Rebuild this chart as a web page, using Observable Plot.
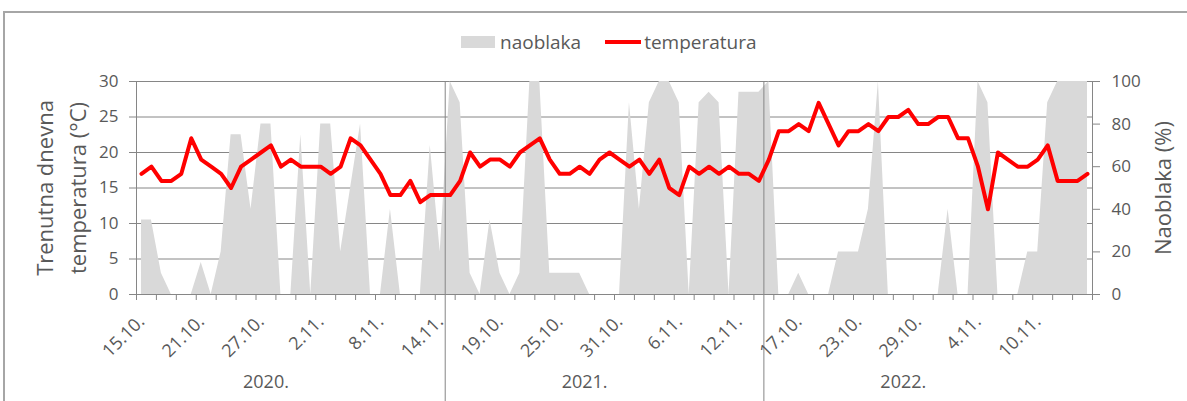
<!DOCTYPE html>
<html>
<head>
<meta charset="utf-8">
<script src="https://cdn.jsdelivr.net/npm/d3@7"></script>
<script src="https://cdn.jsdelivr.net/npm/@observablehq/plot@0.6"></script>
<style>
  html, body { margin: 0; padding: 0; background: #fff; }
  #wrap { position: relative; width: 1187px; height: 401px; overflow: hidden; font-family: "Open Sans", sans-serif; }
  #frame { position: absolute; left: 3px; top: 11px; width: 1300px; height: 500px; border-left: 2px solid #a6a6a6; border-top: 2px solid #a6a6a6; box-sizing: border-box; }
  #chart { position: absolute; left: 0; top: 0; }
  #legend { position: absolute; left: 461px; top: 30px; height: 24px; display: flex; align-items: center; color: #595959; font-size: 19px; }
  .sw-area { width: 34px; height: 12px; background: #d9d9d9; margin-right: 5px; }
  .sw-line { width: 36px; height: 4px; background: #ff0000; margin-left: 24px; margin-right: 3px; }
</style>
</head>
<body>
<div id="wrap">
  <div id="frame"></div>
  <div id="chart"></div>
  <div id="legend"><div class="sw-area"></div><span>naoblaka</span><div class="sw-line"></div><span>temperatura</span></div>
</div>
<script>
// Category labels (each year: 15.10. – 15.11.)
const days = ["15.10.","16.10.","17.10.","18.10.","19.10.","20.10.","21.10.","22.10.","23.10.","24.10.",
  "25.10.","26.10.","27.10.","28.10.","29.10.","30.10.","31.10.","1.11.","2.11.","3.11.","4.11.",
  "5.11.","6.11.","7.11.","8.11.","9.11.","10.11.","11.11.","12.11.","13.11.","14.11.","15.11."];
const years = ["2020.", "2021.", "2022."];

// Temperature (°C)
const temp2020 = [17,18,16,16,17,22,19,18,17,15,18,19,20,21,18,19,18,18,18,17,18,22,21,19,17,14,14,16,13,14,14,14];
const temp2021 = [16,20,18,19,19,18,20,21,22,19,17,17,18,17,19,20,19,18,19,17,19,15,14,18,17,18,17,18,17,17,16,19];
const temp2022 = [23,23,24,23,27,24,21,23,23,24,23,25,25,26,24,24,25,25,22,22,18,12,20,19,18,18,19,21,16,16,16,17];

// Cloudiness (%)
const cloud2020 = [35,35,10,0,0,0,15,0,20,75,75,40,80,80,0,0,75,0,80,80,20,50,80,0,0,40,0,0,0,70,20,100];
const cloud2021 = [90,10,0,35,10,0,10,100,100,10,10,10,10,0,0,0,0,90,40,90,100,100,90,0,90,95,90,0,95,95,95,100];
const cloud2022 = [0,0,10,0,0,0,20,20,20,40,100,0,0,0,0,0,0,40,0,0,100,90,0,0,0,20,20,90,100,100,100,100];

const tempTicks = [0, 5, 10, 15, 20, 25, 30];
const cloudTicks = [0, 20, 40, 60, 80, 100];

const temps = [temp2020, temp2021, temp2022];
const clouds = [cloud2020, cloud2021, cloud2022];
const n = days.length;
const data = [];
years.forEach((yr, yi) => {
  days.forEach((d, di) => {
    data.push({i: yi * n + di, year: yr, day: d, temp: temps[yi][di], cloud: clouds[yi][di]});
  });
});
const total = data.length;
const k = 30 / 100; // cloud % -> temperature axis units

const labelIdx = data.filter(d => d.i % 6 === 0).map(d => d.i + 0.5);
const tickIdx = d3.range(0, total + 1, 2);
// separators between "14.11." and "15.11." of each year (except last)
const separators = years.slice(0, -1).map((y, yi) => yi * n + days.indexOf("15.11."));

const grey = "#868686";
const textCol = "#595959";

const chart = Plot.plot({
  width: 1187,
  height: 401,
  marginLeft: 136,
  marginRight: 95,
  marginTop: 81,
  marginBottom: 107,
  x: {type: "linear", domain: [0, total]},
  y: {domain: [0, 30]},
  style: {fontFamily: "'Open Sans', sans-serif", color: textCol, background: "transparent", overflow: "visible"},
  marks: [
    Plot.ruleY(tempTicks.filter(t => t > 0), {stroke: grey, strokeWidth: 1}),
    Plot.areaY(data, {x: d => d.i + 0.5, y: d => d.cloud * k, fill: "#d9d9d9", curve: "linear"}),
    Plot.ruleX(separators, {stroke: grey, strokeWidth: 1, insetBottom: -115}),
    Plot.ruleX([0], {stroke: grey}),
    Plot.ruleX([total], {stroke: grey}),
    Plot.ruleY([0], {stroke: grey}),
    Plot.axisY(tempTicks, {anchor: "left", tickSize: 7, tickPadding: 11, fontSize: 17, stroke: grey, fill: textCol, label: null}),
    Plot.axisY(cloudTicks.map(c => c * k), {anchor: "right", tickSize: 7, tickPadding: 12, fontSize: 17, stroke: grey, fill: textCol, label: null, tickFormat: v => Math.round(v / k)}),
    Plot.axisX(tickIdx, {tickSize: 6, stroke: grey, tickFormat: () => "", label: null}),
    Plot.axisX(labelIdx, {tickSize: 0, tickPadding: 24, tickRotate: -45, fontSize: 18, fill: textCol, label: null,
      tickFormat: v => days[Math.round(v - 0.5) % n]}),
    Plot.text(years, {x: (d, i) => i * n + 13, frameAnchor: "bottom", dy: 93, fontSize: 18, fill: textCol}),
    Plot.text(["Trenutna dnevna"], {frameAnchor: "left", dx: -91, rotate: -90, textAnchor: "middle", fontSize: 22, fill: textCol}),
    Plot.text(["temperatura (°C)"], {frameAnchor: "left", dx: -58, rotate: -90, textAnchor: "middle", fontSize: 22, fill: textCol}),
    Plot.text(["Naoblaka (%)"], {frameAnchor: "right", dx: 71, rotate: -90, textAnchor: "middle", fontSize: 22, fill: textCol}),
    Plot.line(data, {x: d => d.i + 0.5, y: "temp", stroke: "#ff0000", strokeWidth: 4, strokeLinejoin: "round", strokeLinecap: "round"})
  ]
});
document.getElementById("chart").appendChild(chart);
</script>
</body>
</html>
